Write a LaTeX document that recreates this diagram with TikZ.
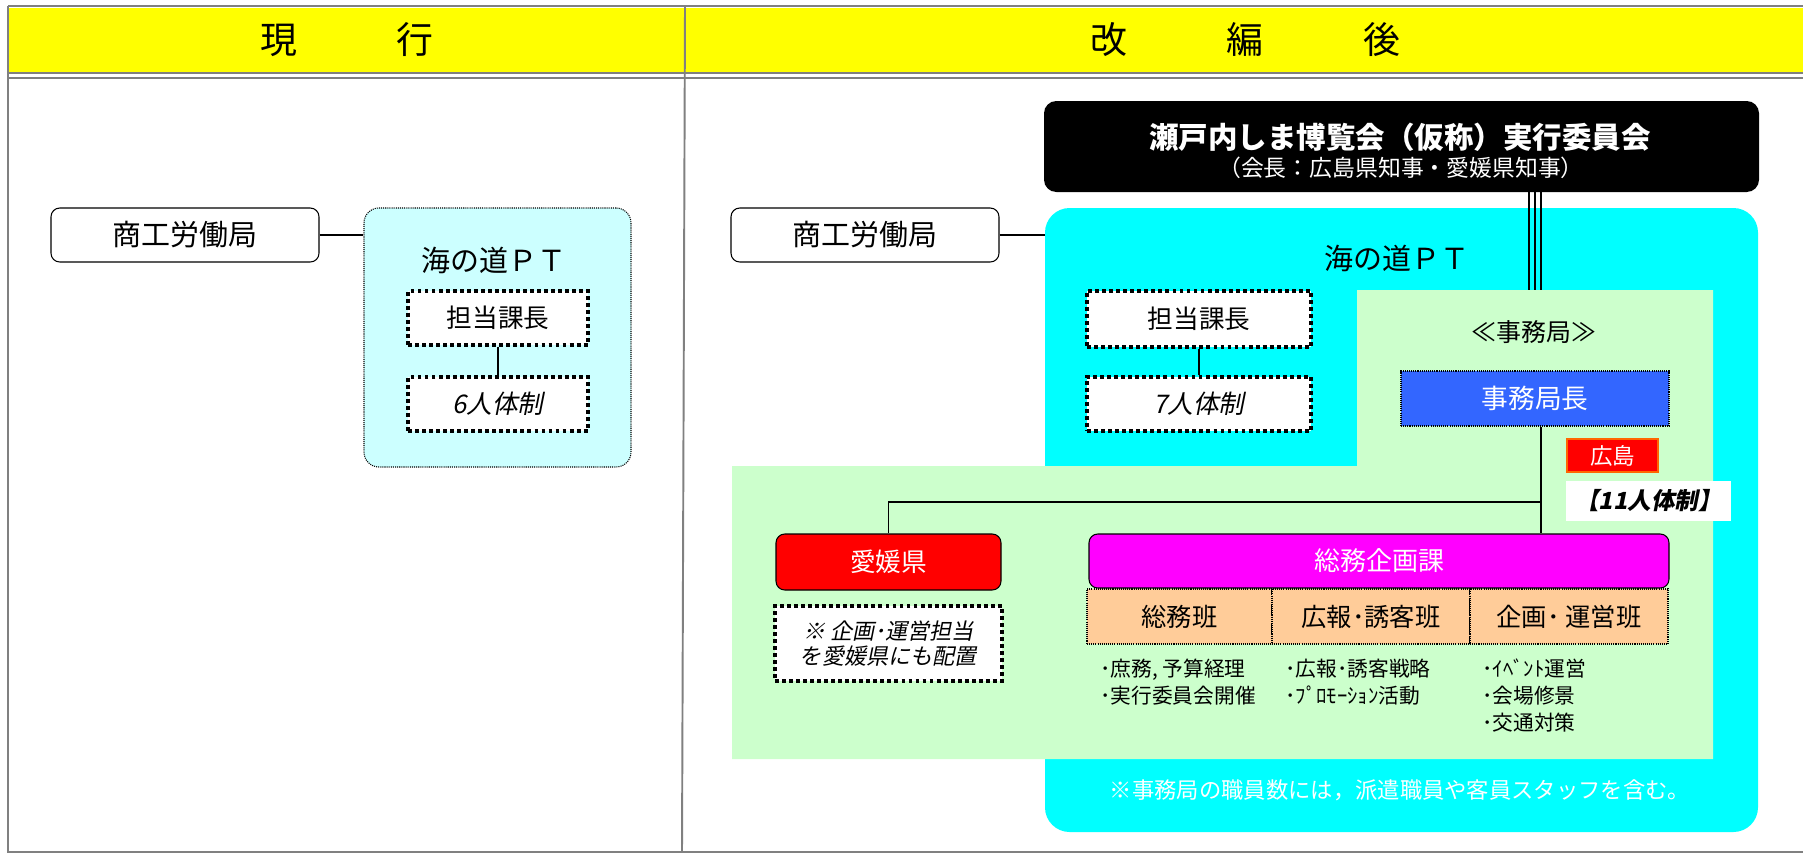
\documentclass[tikz,border=0pt]{standalone}
\usepackage{fontspec}
\setmainfont{Noto Sans CJK JP}
\newfontfamily\slfont{Noto Sans CJK JP}[FakeSlant=0.2]
\usetikzlibrary{calc}
\definecolor{frameGray}{HTML}{808080}
\definecolor{hdYellow}{HTML}{FFFF00}
\definecolor{regionCyan}{HTML}{00FFFF}
\definecolor{paleCyan}{HTML}{CCFFFF}
\definecolor{regionGreen}{HTML}{CCFFCC}
\definecolor{chiefBlue}{HTML}{3366FF}
\definecolor{teamPeach}{HTML}{FFCC99}
\definecolor{hsOrange}{HTML}{FF6600}
\definecolor{secMagenta}{HTML}{FF00FF}
\definecolor{ehRed}{HTML}{FF0000}
\newcommand{\setfs}[1]{\fontsize{#1}{#1}\selectfont}

\tikzset{
  wh/.style 2 args={minimum width={#1*0.02cm}, minimum height={#2*0.02cm}},
  orgBox/.style={draw, line width=0.6pt, rounded corners=5pt, inner sep=0pt, font=\setfs{16.5}},
  ptBox/.style={draw, line width=0.6pt, dash pattern=on 0.6pt off 0.6pt, fill=paleCyan, rounded corners=8.5pt, inner sep=0pt},
  dotBox/.style={draw, line width=1.8pt, dash pattern=on 2.2pt off 1.8pt, fill=white, inner sep=0pt, align=center, font=\setfs{14.6}},
  thinDot/.style={draw, line width=0.6pt, dash pattern=on 0.6pt off 0.6pt, inner sep=0pt},
  teamCell/.style={thinDot, fill=teamPeach, font=\setfs{14.4}},
  listText/.style={inner sep=0pt, align=left, anchor=west, font=\fontsize{11.8}{15.4}\selectfont},
  hdText/.style={font=\setfs{21}},
  link/.style={line width=1pt},
}

\begin{document}
\begin{tikzpicture}[x=0.02cm, y=-0.02cm]
\useasboundingbox (0,0) rectangle (1803,853);
%%Frame and header
\fill[hdYellow] (9,8) rectangle (1803,72);
\draw[frameGray, line width=1.1pt] (8,6) -- (1803,6);
\draw[frameGray, line width=1.1pt] (8,6) -- (8,852) -- (1803,852);
\draw[frameGray, line width=1.1pt] (9,73) -- (1803,73);
\draw[frameGray, line width=1.1pt] (9,78) -- (1803,78);
\draw[frameGray, line width=1.1pt] (685,6) -- (682,852);
\node[hdText] (hdNow) at (347,40) {現\hspace{2.7em}行};
\node[hdText] (hdNew) at (1245,40) {改\hspace{2.7em}編\hspace{2.7em}後};

%%Current organisation
\node[orgBox, wh={268}{54}] (shoL) at (185,235) {商工労働局};
\node[ptBox, wh={267}{259}] (ptL) at (497.5,337.5) {};
\node[font=\setfs{16.5}] (ptLabelL) at (494,260) {海の道ＰＴ};
\node[dotBox, wh={180}{54}] (kachoL) at (498,318) {担当課長};
\node[dotBox, wh={180}{54}, font=\setfs{14.6}\slfont] (staffL) at (498,404) {6人体制};
\draw[link] (shoL.east) -- (shoL.east -| ptL.west);
\draw[link] (kachoL) -- (staffL);

%%Committee
\node[fill=black, rounded corners=7pt, wh={715}{91}] (iinkai) at (1401.5,146.5) {};
\node[text=white, font=\setfs{16.8}\bfseries] (iinkaiName) at (1400,137) {瀬戸内しま博覧会（仮称）実行委員会};
\node[text=white, font=\setfs{13}] (iinkaiSub) at (1401,168) {（会長：広島県知事・愛媛県知事）};

%%Reorganised project team and office
\node[fill=regionCyan, rounded corners=14pt, wh={713}{624}] (ptR) at (1401.5,520) {};
\fill[regionGreen] (1357,290) -- (1713,290) -- (1713,759) -- (732,759) -- (732,466) -- (1357,466) -- cycle;
\coordinate (grnTop) at (1535,290);
\foreach \dx in {-6,0,6}
  \draw[line width=1.2pt] ($(iinkai.south -| grnTop)+(\dx,0)$) -- ($(grnTop)+(\dx,0)$);
\node[font=\setfs{16.5}] (ptLabelR) at (1397,258) {海の道ＰＴ};
\node[font=\setfs{14.2}] (jimukyoku) at (1534,332) {≪事務局≫};
\node[orgBox, wh={268}{54}] (shoR) at (865,235) {商工労働局};
\node[dotBox, wh={224}{56}] (kachoR) at (1199,319) {担当課長};
\node[dotBox, wh={224}{54}, font=\setfs{14.6}\slfont] (staffR) at (1199,404) {7人体制};
\draw[link] (shoR.east) -- (shoR.east -| ptR.west);
\draw[link] (kachoR) -- (staffR);

%%Office members
\node[thinDot, fill=chiefBlue, text=white, wh={268}{55}, font=\setfs{15.2}] (kyokucho) at (1535,398.5) {事務局長};
\node[fill=ehRed, draw=hsOrange, line width=1.2pt, text=white, inner sep=0pt, wh={91}{33}, font=\setfs{12.8}] (hiroshima) at (1612.5,455.5) {広島};
\node[fill=white, inner sep=0pt, wh={165}{40}, font=\setfs{13.4}\slfont\bfseries] (staff11) at (1648.5,501) {【11人体制】};
\node[orgBox, fill=ehRed, text=white, wh={225}{56}, font=\setfs{14.6}] (ehime) at (888.5,562) {愛媛県};
\node[dotBox, wh={227}{75}, font=\fontsize{12.6}{14.3}\selectfont\slfont] (ehimeNote) at (888.5,643.5) {※ 企画･運営担当\\を愛媛県にも配置};
\node[orgBox, fill=secMagenta, text=white, wh={580}{54}, font=\setfs{14.8}] (somu) at (1379,561) {総務企画課};
\node[teamCell, wh={185}{55}] (teamSomu) at (1179.5,616.5) {総務班};
\node[teamCell, wh={198}{55}] (teamPR) at (1371,616.5) {広報･誘客班};
\node[teamCell, wh={198}{55}] (teamEvent) at (1569,616.5) {企画･ 運営班};
\coordinate (branch) at (1541,502);
\draw[link] (kyokucho.south -| branch) -- (branch |- somu.north);
\draw[link] (branch) -| (ehime.north);

%%Tasks
\node[listText] (taskSomu) at (1100,682.5) {･庶務, 予算経理\\･実行委員会開催};
\node[listText] (taskPR) at (1285,682.5) {･広報･誘客戦略\\･ﾌﾟﾛﾓｰｼｮﾝ活動};
\node[listText] (taskEvent) at (1482,695.5) {･ｲﾍﾞﾝﾄ運営\\･会場修景\\･交通対策};
\node[text=white, font=\setfs{12.7}] (memo) at (1400,790) {※事務局の職員数には，派遣職員や客員スタッフを含む。};
\end{tikzpicture}
\end{document}
